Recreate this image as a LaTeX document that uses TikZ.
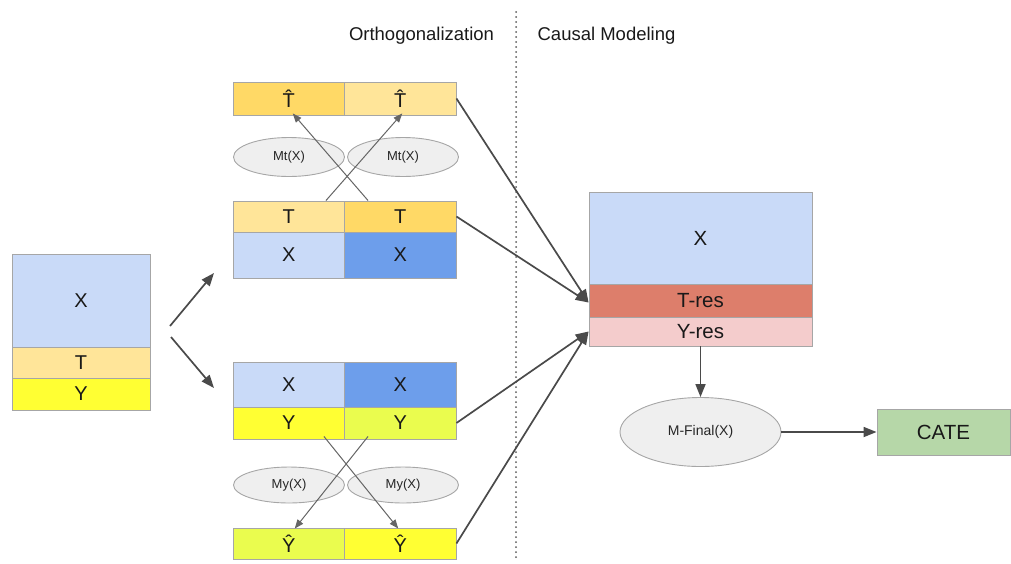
\documentclass[tikz,border=0pt]{standalone}
\usepackage{fontspec}
\setmainfont{Liberation Sans}
\usetikzlibrary{arrows.meta,shapes.geometric,positioning}
\definecolor{xlight}{HTML}{C9DAF8}
\definecolor{xdark}{HTML}{6D9EEB}
\definecolor{tlight}{HTML}{FFE599}
\definecolor{tdark}{HTML}{FFD966}
\definecolor{yyel}{HTML}{FFFF33}
\definecolor{ylime}{HTML}{EAFC4E}
\definecolor{tres}{HTML}{DD7E6B}
\definecolor{yres}{HTML}{F4CCCC}
\definecolor{cate}{HTML}{B6D7A8}
\definecolor{ellfill}{HTML}{EFEFEF}
\definecolor{bordergray}{HTML}{A6A6A6}
\definecolor{arrowgray}{HTML}{4A4A4A}
\tikzset{
  cell/.style={draw=bordergray, line width=0.9pt, inner sep=0pt, font=\fontsize{20}{22}\selectfont, text=black!90},
  model/.style={ellipse, draw=bordergray, fill=ellfill, line width=0.9pt, inner sep=0pt, font=\fontsize{13}{15}\selectfont, text=black!85},
  conn/.style={draw=arrowgray, line width=1.7pt, -{Triangle[length=13pt,width=10pt]}},
  thin conn/.style={draw=arrowgray!85, line width=1pt, -{Triangle[length=9pt,width=7pt]}},
  header/.style={font=\fontsize{18.5}{21}\selectfont, text=black!90}
}
\begin{document}
\begin{tikzpicture}[x=1pt,y=-1pt]
\useasboundingbox (0,0) rectangle (1011,563);
% headers and divider
\node[header] (hortho) at (421.5,36) {Orthogonalization};
\node[header] (hcausal) at (606.5,36) {Causal Modeling};
\coordinate (divtop) at (516,12);
\coordinate (divbot) at (516,560);
\draw[black!65, line width=2pt, dash pattern=on 0pt off 5pt, line cap=round] (divtop) -- (divbot);
% left block
\node[cell, fill=xlight, minimum width=138, minimum height=93] (lx) at (81,300.5) {X};
\node[cell, fill=tlight, minimum width=138, minimum height=31] (lt) at (81,362.5) {T};
\node[cell, fill=yyel, minimum width=138, minimum height=32] (ly) at (81,394) {Y};
% split arrows
\coordinate (s1a) at (170,326); \coordinate (s1b) at (214,273);
\coordinate (s2a) at (171,337); \coordinate (s2b) at (214,388);
\draw[conn] (s1a) -- (s1b);
\draw[conn] (s2a) -- (s2b);
% top group
\node[cell, fill=tdark, minimum width=111.5, minimum height=33] (thl) at (288.75,98.5) {\^{T}};
\node[cell, fill=tlight, minimum width=111.5, minimum height=33] (thr) at (400.25,98.5) {\^{T}};
\node[cell, fill=tlight, minimum width=111.5, minimum height=31] (tl) at (288.75,216.5) {T};
\node[cell, fill=tdark, minimum width=111.5, minimum height=31] (tr) at (400.25,216.5) {T};
\node[cell, fill=xlight, minimum width=111.5, minimum height=46] (xl) at (288.75,255) {X};
\node[cell, fill=xdark, minimum width=111.5, minimum height=46] (xr) at (400.25,255) {X};
\node[model, minimum width=111, minimum height=39] (mt1) at (289,157) {Mt(X)};
\node[model, minimum width=111, minimum height=39] (mt2) at (403,157) {Mt(X)};
\draw[thin conn] ([xshift=-19pt]tl.north east) -- ([xshift=2pt,yshift=2pt]thr.south);
\draw[thin conn] ([xshift=24pt]tr.north west) -- ([xshift=4pt,yshift=2pt]thl.south);
% bottom group
\node[cell, fill=xlight, minimum width=111.5, minimum height=45] (bxl) at (288.75,384.5) {X};
\node[cell, fill=xdark, minimum width=111.5, minimum height=45] (bxr) at (400.25,384.5) {X};
\node[cell, fill=yyel, minimum width=111.5, minimum height=32] (yl) at (288.75,423) {Y};
\node[cell, fill=ylime, minimum width=111.5, minimum height=32] (yr) at (400.25,423) {Y};
\node[cell, fill=ylime, minimum width=111.5, minimum height=31] (yhl) at (288.75,543.5) {Ŷ};
\node[cell, fill=yyel, minimum width=111.5, minimum height=31] (yhr) at (400.25,543.5) {Ŷ};
\node[model, minimum width=111, minimum height=36] (my1) at (289,485) {My(X)};
\node[model, minimum width=111, minimum height=36] (my2) at (403,485) {My(X)};
\draw[thin conn] ([xshift=-21pt,yshift=3pt]yl.south east) -- ([xshift=-2pt,yshift=-1pt]yhr.north);
\draw[thin conn] ([xshift=24pt,yshift=3pt]yr.south west) -- ([xshift=6pt,yshift=-1pt]yhl.north);
% right block
\node[cell, fill=xlight, minimum width=223, minimum height=92, font=\fontsize{20.5}{22}\selectfont] (rx) at (700.5,238) {X};
\node[cell, fill=tres, minimum width=223, minimum height=33, font=\fontsize{20.5}{22}\selectfont] (rt) at (700.5,300.5) {T-res};
\node[cell, fill=yres, minimum width=223, minimum height=29, font=\fontsize{20.5}{22}\selectfont] (ry) at (700.5,331.5) {Y-res};
\draw[conn] (thr.east) -- ([yshift=-2pt]rt.west);
\draw[conn] (tr.east) -- ([yshift=-2pt]rt.west);
\draw[conn] (yr.east) -- (ry.west);
\draw[conn] (yhr.east) -- (ry.west);
% final
\node[model, minimum width=161, minimum height=69, font=\fontsize{14}{16}\selectfont] (mf) at (700.5,432) {M-Final(X)};
\node[cell, fill=cate, minimum width=133, minimum height=46, font=\fontsize{20.5}{22}\selectfont] (cate) at (943.5,432) {CATE};
\draw[conn] (ry.south) -- (mf.north);
\draw[conn] (mf.east) -- (cate.west);
\end{tikzpicture}
\end{document}
